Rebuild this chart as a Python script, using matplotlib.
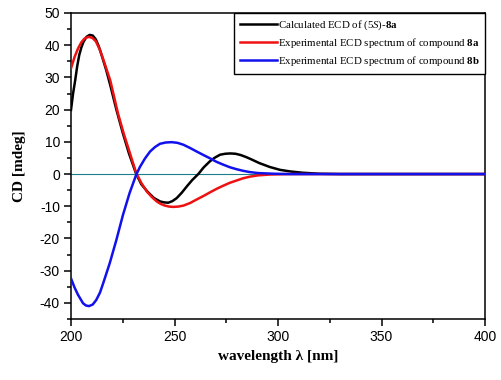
import matplotlib
matplotlib.use("Agg")
import matplotlib.pyplot as plt
from matplotlib.ticker import MultipleLocator

plt.rcParams['mathtext.fontset'] = 'custom'
plt.rcParams['mathtext.rm'] = 'Liberation Serif'
plt.rcParams['mathtext.it'] = 'Liberation Serif:italic'
plt.rcParams['mathtext.bf'] = 'Liberation Serif:bold'
plt.rcParams['axes.unicode_minus'] = False

# Calculated ECD of (5S)-8a
calc_x = [200, 201, 202, 203, 204, 205, 206, 207.5, 209, 210.5, 212, 213.5, 215, 217,
          219, 222, 225, 228, 231.5, 234, 237, 240, 243, 245, 247, 249, 251, 253.5,
          256, 258.5, 261.5, 264, 267, 269.5, 272, 274.5, 277, 279.5, 282, 284.5, 287,
          291, 296, 301, 306, 312, 320, 330, 400]
calc_y = [19.9, 25, 29, 33.5, 37, 39.3, 41, 42.6, 43.2, 43.0, 41.8, 39.5, 36.5, 32.3,
          27.5, 19.8, 12.8, 6.4, 0, -3.2, -5.5, -7.4, -8.5, -8.8, -8.9, -8.4, -7.5, -5.8,
          -3.8, -1.9, 0, 2.0, 3.9, 5.1, 6.0, 6.3, 6.4, 6.3, 5.9, 5.3, 4.6,
          3.4, 2.2, 1.3, 0.8, 0.4, 0.1, 0, 0]

# Experimental ECD spectrum of compound 8a
exp8a_x = [200, 201.7, 203.4, 205, 206.6, 208.5, 210.3, 212, 214, 216, 219, 222.7,
           225.5, 228.5, 231.5, 234, 236.6, 239, 241.4, 243.4, 245.4, 247.4, 249.4,
           251.8, 254.3, 257.5, 260.7, 264, 267.1, 270.3, 273.6, 276.8, 280, 283.2,
           286.5, 290.5, 296, 305, 400]
exp8a_y = [32.8, 36.3, 39, 40.9, 42.1, 42.6, 42.3, 41.2, 38.5, 34.8, 29, 18.8,
           12.5, 6.4, 0.3, -2.8, -5.4, -7.1, -8.5, -9.3, -9.8, -10.1, -10.2,
           -10.1, -9.8, -9.0, -7.9, -6.8, -5.7, -4.6, -3.6, -2.7, -2.0, -1.3,
           -0.8, -0.4, -0.15, 0, 0]

# Experimental ECD spectrum of compound 8b
exp8b_x = [200, 201.7, 203.4, 205.8, 207.2, 208.7, 210.5, 212.2, 214, 215.5, 218.7,
           221.9, 225.1, 228.3, 231.5, 233.3, 235.7, 238.2, 240.6, 243, 245.8, 248.6,
           251.4, 254.3, 257.5, 260.7, 264, 267.1, 270.3, 273.6, 276.8, 280, 283.2,
           286.5, 290.5, 298, 305, 400]
exp8b_y = [-32.4, -35.2, -37.5, -40.1, -40.8, -41, -40.5, -39.1, -36.8, -34, -27.7,
           -20.5, -12.7, -5.9, -0.2, 2.2, 4.8, 7.0, 8.4, 9.4, 9.8, 9.9,
           9.7, 9.1, 8.1, 7.0, 5.9, 4.9, 3.8, 2.9, 2.1, 1.5, 1.0,
           0.6, 0.3, 0.1, 0, 0]

labels = ["Calculated ECD of (5$\\mathit{S}$)-$\\mathbf{8a}$",
          "Experimental ECD spectrum of compound $\\mathbf{8a}$",
          "Experimental ECD spectrum of compound $\\mathbf{8b}$"]

fig = plt.figure(figsize=(5.02, 3.8), dpi=100)
ax = fig.add_axes([71/502, 1-319/380, (485-71)/502, (319-13)/380])

ax.axhline(0, color='#1a7f8a', lw=0.8, zorder=1)
ax.plot(calc_x, calc_y, color='black', lw=1.8, label=labels[0], zorder=2,
        solid_joinstyle='round')
ax.plot(exp8a_x, exp8a_y, color='#ee1111', lw=1.8, label=labels[1], zorder=3,
        solid_joinstyle='round')
ax.plot(exp8b_x, exp8b_y, color='#1111ee', lw=1.8, label=labels[2], zorder=4,
        solid_joinstyle='round')

ax.set_xlim(200, 400)
ax.set_ylim(-45, 50)
ax.xaxis.set_major_locator(MultipleLocator(50))
ax.xaxis.set_minor_locator(MultipleLocator(25))
ax.yaxis.set_major_locator(MultipleLocator(10))
ax.yaxis.set_minor_locator(MultipleLocator(5))
ax.tick_params(which='both', direction='out', top=False, right=False, width=1.1,
               labelsize=10, pad=3)
ax.tick_params(which='major', length=5)
ax.tick_params(which='minor', length=3)
for lab in ax.get_xticklabels() + ax.get_yticklabels():
    lab.set_fontfamily('Liberation Sans')
for s in ax.spines.values():
    s.set_linewidth(1.1)

ax.set_xlabel("wavelength λ [nm]", fontfamily='Liberation Serif', fontweight='bold',
              fontsize=11, labelpad=4)
ax.set_ylabel("CD [mdeg]", fontfamily='Liberation Serif', fontweight='bold',
              fontsize=11, labelpad=10)

leg = ax.legend(loc='upper right', borderaxespad=0, fancybox=False, framealpha=1,
                edgecolor='black', handlelength=3.4, handletextpad=0.1,
                labelspacing=0.38, borderpad=0.5,
                prop={'family': 'Liberation Serif', 'size': 7.8})
leg.get_frame().set_linewidth(1.0)

fig.savefig("out.png", dpi=100)
